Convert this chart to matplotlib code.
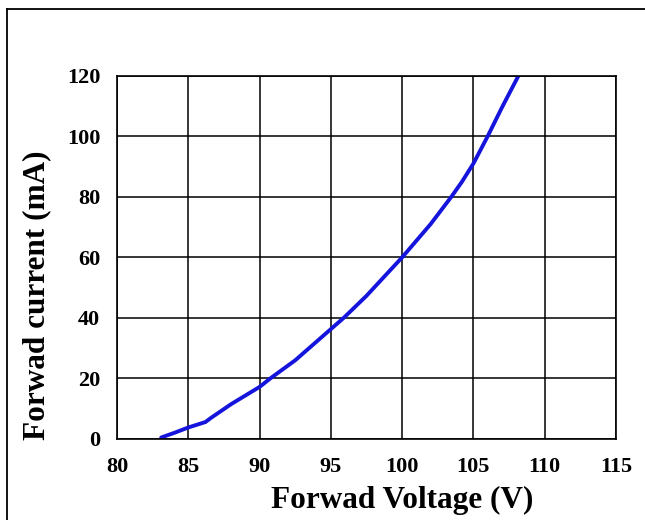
import matplotlib
matplotlib.use("Agg")
import matplotlib.pyplot as plt
from matplotlib.lines import Line2D
from matplotlib.font_manager import FontProperties

# forward voltage (V) vs forward current (mA)
voltage = [83.1, 84.0, 85.0, 86.2, 86.6, 88.0, 90.0, 90.75, 92.5, 95.0,
           95.9, 97.5, 100.0, 101.0, 102.0, 103.45, 104.2, 105.0, 106.0,
           107.0, 108.16]
current = [0.5, 2.0, 3.8, 5.6, 7.0, 11.5, 17.2, 20.0, 26.0, 36.3,
           40.0, 47.3, 60.0, 65.5, 71.0, 80.0, 85.0, 91.0, 100.0,
           109.5, 120.0]

x_ticks = [80, 85, 90, 95, 100, 105, 110, 115]
y_ticks = [0, 20, 40, 60, 80, 100, 120]

fig = plt.figure(figsize=(6.45, 5.2), dpi=100)
ax = fig.add_axes([117/645, 1 - 439/520, 499/645, 363.3/520])

ax.plot(voltage, current, color="#1414dc", lw=2.8,
        solid_capstyle="round", solid_joinstyle="round")

ax.set_xlim(80, 115)
ax.set_ylim(0, 120)
ax.set_xticks(x_ticks)
ax.set_yticks(y_ticks)
ax.grid(True, color="black", lw=1.1)
ax.set_axisbelow(True)
for s in ax.spines.values():
    s.set_color("black")
    s.set_linewidth(1.2)

tick_fp = FontProperties(family="Liberation Serif", weight="bold", size=16)
ax.tick_params(length=0)
ax.tick_params(axis="x", pad=13)
ax.tick_params(axis="y", pad=12)
for lab in ax.get_xticklabels() + ax.get_yticklabels():
    lab.set_fontproperties(tick_fp)

lab_font = dict(family="Liberation Serif", weight="bold", size=22.5)
ax.set_xlabel("Forwad Voltage (V)", **lab_font)
ax.set_ylabel("Forwad current (mA)", **lab_font)
ax.xaxis.set_label_coords(0.571, -0.168)
ax.yaxis.set_label_coords(-0.16, 0.396)
ax.xaxis.label.set_va("center")
ax.yaxis.label.set_va("center")

# outer frame of the picture (left and top edges only are visible)
fig.add_artist(Line2D([7/645, 7/645], [0, 1 - 9/520], color="black", lw=1.3))
fig.add_artist(Line2D([7/645, 1], [1 - 9/520, 1 - 9/520], color="black", lw=1.3))

fig.savefig("out.png", dpi=100)
